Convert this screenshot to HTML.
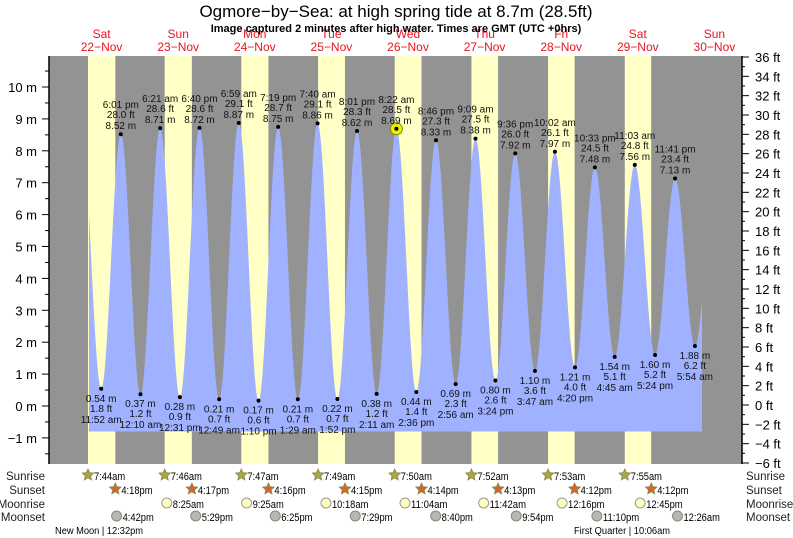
<!DOCTYPE html>
<html><head><meta charset="utf-8"><style>
body{margin:0;background:#fff;width:793px;height:538px;overflow:hidden}
svg{display:block;font-family:"Liberation Sans",sans-serif}
</style></head><body>
<svg id="s" width="793" height="538" xmlns="http://www.w3.org/2000/svg"></svg>
<script>
var s=document.getElementById('s'),h='';
var X0=63.3,PH=76.6/24;
function X(t){return X0+t*PH}
function Y(m){return 406-m*31.9}
h+='<rect x="49" y="56" width="693" height="408" fill="#939393"/>';
var days=['Sat','Sun','Mon','Tue','Wed','Thu','Fri','Sat','Sun'];
var dates=['22','23','24','25','26','27','28','29','30'];
var sr=[7.73,7.77,7.78,7.82,7.83,7.87,7.88,7.92],ss=[16.3,16.28,16.27,16.25,16.23,16.22,16.2,16.2];
for(var d=0;d<8;d++){var a=X(d*24+sr[d]),b=X(d*24+ss[d]);h+='<rect x="'+a+'" y="56" width="'+(b-a)+'" height="408" fill="#ffffc6"/>';}
var ex=[[5.7,8.5],[11.87,0.54],[18.02,8.52],[24.17,0.37],[30.35,8.71],[36.52,0.28],[42.67,8.72],[48.82,0.21],[54.98,8.87],[61.17,0.17],[67.32,8.75],[73.48,0.21],[79.67,8.86],[85.87,0.22],[92.02,8.62],[98.18,0.38],[104.37,8.69],[110.6,0.44],[116.77,8.33],[122.93,0.69],[129.15,8.38],[135.4,0.8],[141.6,7.92],[147.78,1.1],[154.03,7.97],[160.33,1.21],[166.55,7.48],[172.75,1.54],[179.05,7.56],[185.4,1.6],[191.68,7.13],[197.9,1.88],[204.1,6.9]];
function v(t){for(var i=0;i<ex.length-1;i++){if(t>=ex[i][0]&&t<=ex[i+1][0]){var f=(t-ex[i][0])/(ex[i+1][0]-ex[i][0]);return ex[i+1][1]+(ex[i][1]-ex[i+1][1])*(1+Math.cos(Math.PI*f))/2;}}return 0}
var p='M89,'+Y(-0.8);for(var x=89;x<=702;x+=0.5){p+=' L'+x+','+Y(v((x-X0)/PH)).toFixed(1);}p+=' L702,'+Y(-0.8)+' Z';
h+='<path d="'+p+'" fill="#a0b2ff"/>';
var lab=[["11:52 am","1.8 ft"],["6:01 pm","28.0 ft"],["12:10 am","1.2 ft"],["6:21 am","28.6 ft"],["12:31 pm","0.9 ft"],["6:40 pm","28.6 ft"],["12:49 am","0.7 ft"],["6:59 am","29.1 ft"],["1:10 pm","0.6 ft"],["7:19 pm","28.7 ft"],["1:29 am","0.7 ft"],["7:40 am","29.1 ft"],["1:52 pm","0.7 ft"],["8:01 pm","28.3 ft"],["2:11 am","1.2 ft"],["8:22 am","28.5 ft"],["2:36 pm","1.4 ft"],["8:46 pm","27.3 ft"],["2:56 am","2.3 ft"],["9:09 am","27.5 ft"],["3:24 pm","2.6 ft"],["9:36 pm","26.0 ft"],["3:47 am","3.6 ft"],["10:02 am","26.1 ft"],["4:20 pm","4.0 ft"],["10:33 pm","24.5 ft"],["4:45 am","5.1 ft"],["11:03 am","24.8 ft"],["5:24 pm","5.2 ft"],["11:41 pm","23.4 ft"],["5:54 am","6.2 ft"]];
var T='font-size="10" fill="#111" text-anchor="middle"';
for(var i=1;i<ex.length-1;i++){var e=ex[i],x=X(e[0]),y=Y(e[1]),L=lab[i-1],m=e[1].toFixed(2)+' m';
if(i==16)h+='<circle cx="'+x+'" cy="'+y+'" r="6" fill="#ee0" stroke="#880" stroke-width="1"/>';
h+='<circle cx="'+x+'" cy="'+y+'" r="2" fill="#000"/>';
if(e[1]>4){h+='<text x="'+x+'" y="'+(y-5)+'" '+T+'>'+m+'</text><text x="'+x+'" y="'+(y-16)+'" '+T+'>'+L[1]+'</text><text x="'+x+'" y="'+(y-26)+'" '+T+'>'+L[0]+'</text>';}
else{h+='<text x="'+x+'" y="'+(y+13)+'" '+T+'>'+m+'</text><text x="'+x+'" y="'+(y+23)+'" '+T+'>'+L[1]+'</text><text x="'+x+'" y="'+(y+34)+'" '+T+'>'+L[0]+'</text>';}}
h+='<line x1="49" y1="56" x2="49" y2="464" stroke="#000" stroke-width="1.5"/><line x1="742" y1="56" x2="742" y2="464" stroke="#000" stroke-width="1.5"/>';
for(var m=-1.5;m<=10.5;m+=0.5){var y=Y(m);if(y<56||y>464)continue;var maj=Math.abs(m-Math.round(m))<0.01;h+='<line x1="'+(maj?42:45)+'" y1="'+y+'" x2="49" y2="'+y+'" stroke="#000"/>';if(maj)h+='<text x="37" y="'+(y+5)+'" font-size="13" text-anchor="end">'+(m<0?'−'+(-m):m)+' m</text>';}
for(var f=-6;f<=36;f++){var y=405-f*9.667;var maj=f%2==0;h+='<line x1="742" y1="'+y+'" x2="'+(maj?749:745)+'" y2="'+y+'" stroke="#000"/>';if(maj)h+='<text x="755" y="'+(y+5)+'" font-size="13">'+(f<0?'−'+(-f):f)+' ft</text>';}
for(var d=0;d<9;d++){var x=X(d*24+12);h+='<text x="'+x+'" y="38" font-size="12" fill="#e8141e" text-anchor="middle">'+days[d]+'</text><text x="'+x+'" y="51" font-size="12" fill="#e8141e" text-anchor="middle">'+dates[d]+'−Nov</text>';}
h+='<text x="396" y="17" font-size="17" text-anchor="middle">Ogmore−by−Sea: at high  spring tide at 8.7m (28.5ft)</text>';
h+='<text x="396" y="32" font-size="11" font-weight="bold" text-anchor="middle">Image captured 2 minutes after high water. Times are GMT (UTC +0hrs)</text>';
var rows=['Sunrise','Sunset','Moonrise','Moonset'],ry=[475,489,503,516];
for(var r=0;r<4;r++){h+='<text x="45" y="'+(ry[r]+5)+'" font-size="11.5" fill="#222" text-anchor="end">'+rows[r]+'</text><text x="746" y="'+(ry[r]+5)+'" font-size="11.5" fill="#222">'+rows[r]+'</text>';}
function star(x,y,c){var q='';for(var k=0;k<10;k++){var a=-Math.PI/2+k*Math.PI/5,rr=k%2?2.8:6;q+=(x+rr*Math.cos(a)).toFixed(1)+','+(y+rr*Math.sin(a)).toFixed(1)+' ';}return '<polygon points="'+q+'" fill="'+c+'" stroke="#885" stroke-width="0.8"/>';}
function tx(x,y,t){return '<text x="'+x+'" y="'+y+'" font-size="11" textLength="'+(t.length*5.2)+'" lengthAdjust="spacingAndGlyphs">'+t+'</text>';}
var srt=['7:44am','7:46am','7:47am','7:49am','7:50am','7:52am','7:53am','7:55am'],sst=['4:18pm','4:17pm','4:16pm','4:15pm','4:14pm','4:13pm','4:12pm','4:12pm'];
for(var d=0;d<8;d++){var x=X(d*24+sr[d]);h+=star(x,475,'#a8a83c')+tx(x+6,480,srt[d]);x=X(d*24+ss[d]);h+=star(x,489,'#d8642a')+tx(x+6,494,sst[d]);}
var mr=[[32.42,'8:25am'],[57.42,'9:25am'],[82.3,'10:18am'],[107.07,'11:04am'],[131.7,'11:42am'],[156.27,'12:16pm'],[180.75,'12:45pm']];
mr.forEach(function(a){var x=X(a[0]);h+='<circle cx="'+x+'" cy="503" r="5" fill="#ffffc0" stroke="#999"/>'+tx(x+6,508,a[1]);});
var ms=[[16.7,'4:42pm'],[41.48,'5:29pm'],[66.42,'6:25pm'],[91.48,'7:29pm'],[116.67,'8:40pm'],[141.9,'9:54pm'],[167.17,'11:10pm'],[192.43,'12:26am']];
ms.forEach(function(a){var x=X(a[0]);h+='<circle cx="'+x+'" cy="516" r="5" fill="#bbb5ad" stroke="#888"/>'+tx(x+6,521,a[1]);});
h+='<text x="55" y="534" font-size="10" textLength="88" lengthAdjust="spacingAndGlyphs">New Moon | 12:32pm</text><text x="574" y="534" font-size="10" textLength="96" lengthAdjust="spacingAndGlyphs">First Quarter | 10:06am</text>';
s.innerHTML=h;
</script>
</body></html>
